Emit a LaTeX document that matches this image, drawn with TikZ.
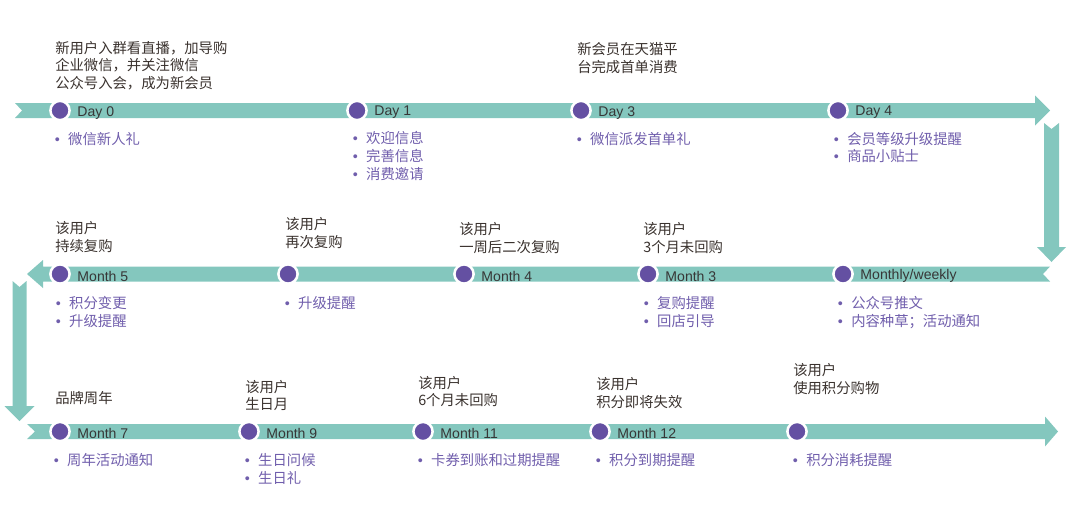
\documentclass[tikz,border=0pt]{standalone}
\usepackage{fontspec}
\setmainfont{Liberation Sans}
\newfontfamily\cjk{Noto Sans CJK SC}
\usepackage{xcolor}
\usepackage{tikz}
\usetikzlibrary{positioning}
\definecolor{bandteal}{RGB}{132,199,190}
\definecolor{dotpurple}{RGB}{100,80,162}
\definecolor{itempurple}{RGB}{112,94,172}
\definecolor{titlegray}{RGB}{58,50,46}
\definecolor{labelgray}{RGB}{55,55,55}
\newcommand{\bul}{{\rmfamily\textbullet}\hspace{6pt}}

\begin{document}
\begin{tikzpicture}[x=0.025cm, y=-0.025cm]
\tikzset{
  band/.style={fill=bandteal, draw=none},
  dot/.style={circle, fill=dotpurple, draw=white, line width=1.8pt, minimum size=0.48cm, inner sep=0pt},
  steplbl/.style={font=\rmfamily\fontsize{10}{12}\selectfont, text=labelgray, inner sep=1pt, yshift=-1.5pt},
  toptxt/.style={anchor=base west, align=left, inner sep=0pt, text=titlegray, font=\cjk\fontsize{10.2}{12.45}\selectfont},
  bultxt/.style={anchor=base west, align=left, inner sep=0pt, text=itempurple, font=\cjk\fontsize{10.2}{12.45}\selectfont},
}
\def\ya{110.5}
\def\yb{274}
\def\yc{431.5}
\def\bw{7.5}

\useasboundingbox (0,0) rectangle (1071,508);

\fill[band] (15,\ya-\bw) -- (1035,\ya-\bw) -- (1035,\ya-15) -- (1050,\ya) -- (1035,\ya+15) -- (1035,\ya+\bw) -- (15,\ya+\bw) -- (22,\ya) -- cycle;
\fill[band] (1044,123) -- (1051.5,129) -- (1059,123) -- (1059,247) -- (1066,247) -- (1051.5,262) -- (1037,247) -- (1044,247) -- cycle;
\fill[band] (1050,\yb-\bw) -- (1043,\yb) -- (1050,\yb+\bw) -- (43,\yb+\bw) -- (43,\yb+14) -- (27,\yb) -- (43,\yb-14) -- (43,\yb-\bw) -- cycle;
\fill[band] (12.5,281) -- (19.5,287) -- (26.5,281) -- (26.5,406) -- (34.5,406) -- (19.5,421) -- (4.5,406) -- (12.5,406) -- cycle;
\fill[band] (27,\yc-\bw) -- (1045,\yc-\bw) -- (1045,\yc-15) -- (1058,\yc) -- (1045,\yc+15) -- (1045,\yc+\bw) -- (27,\yc+\bw) -- (35,\yc) -- cycle;

\foreach \n/\x/\y in {d0/60/\ya, d1/357/\ya, d3/581/\ya, d4/838/\ya,
  m5/60/\yb, rb/288/\yb, m4/464/\yb, m3/648/\yb, mw/843/\yb,
  m7/60/\yc, m9/249/\yc, m11/423/\yc, m12/600/\yc, pt/797/\yc} {
  \node[dot] (\n) at (\x,\y) {};
}

\foreach \n/\lbl in {d0/Day 0, d1/Day 1, d3/Day 3, d4/Day 4, m5/Month 5, m4/Month 4, m3/Month 3,
  mw/{Monthly/weekly}, m7/Month 7, m9/Month 9, m11/Month 11, m12/Month 12} {
  \node[steplbl, right=3.5pt of \n] (\n-l) {\lbl};
}

% base = last line
\node[toptxt] (d0-t) at (55,88.5) {新用户入群看直播，加导购\\企业微信，并关注微信\\公众号入会，成为新会员};
\node[toptxt] (d3-t) at (577,72) {新会员在天猫平\\台完成首单消费};
\node[toptxt] (m5-t) at (55,251) {该用户\\持续复购};
\node[toptxt] (rb-t) at (285,247) {该用户\\再次复购};
\node[toptxt] (m4-t) at (459,252) {该用户\\一周后二次复购};
\node[toptxt] (m3-t) at (643,252) {该用户\\3个月未回购};
\node[toptxt] (m7-t) at (55,403) {品牌周年};
\node[toptxt] (m9-t) at (245,409.5) {该用户\\生日月};
\node[toptxt] (m11-t) at (418,405.5) {该用户\\6个月未回购};
\node[toptxt] (m12-t) at (596,407) {该用户\\积分即将失效};
\node[toptxt] (pt-t) at (793,393) {该用户\\使用积分购物};

\node[bultxt] (d0-b) at (54.5,144) {\bul 微信新人礼};
\node[bultxt] (d1-b) at (352.5,179) {\bul 欢迎信息\\\bul 完善信息\\\bul 消费邀请};
\node[bultxt] (d3-b) at (576.5,144) {\bul 微信派发首单礼};
\node[bultxt] (d4-b) at (833.5,161.5) {\bul 会员等级升级提醒\\\bul 商品小贴士};
\node[bultxt] (m5-b) at (55.5,326) {\bul 积分变更\\\bul 升级提醒};
\node[bultxt] (rb-b) at (284.5,308.5) {\bul 升级提醒};
\node[bultxt] (m3-b) at (643.5,326) {\bul 复购提醒\\\bul 回店引导};
\node[bultxt] (mw-b) at (837.5,326) {\bul 公众号推文\\\bul 内容种草；活动通知};
\node[bultxt] (m7-b) at (53.5,465.5) {\bul 周年活动通知};
\node[bultxt] (m9-b) at (244.5,483) {\bul 生日问候\\\bul 生日礼};
\node[bultxt] (m11-b) at (417.5,465.5) {\bul 卡券到账和过期提醒};
\node[bultxt] (m12-b) at (595.5,465.5) {\bul 积分到期提醒};
\node[bultxt] (pt-b) at (792.5,465.5) {\bul 积分消耗提醒};
\end{tikzpicture}
\end{document}
